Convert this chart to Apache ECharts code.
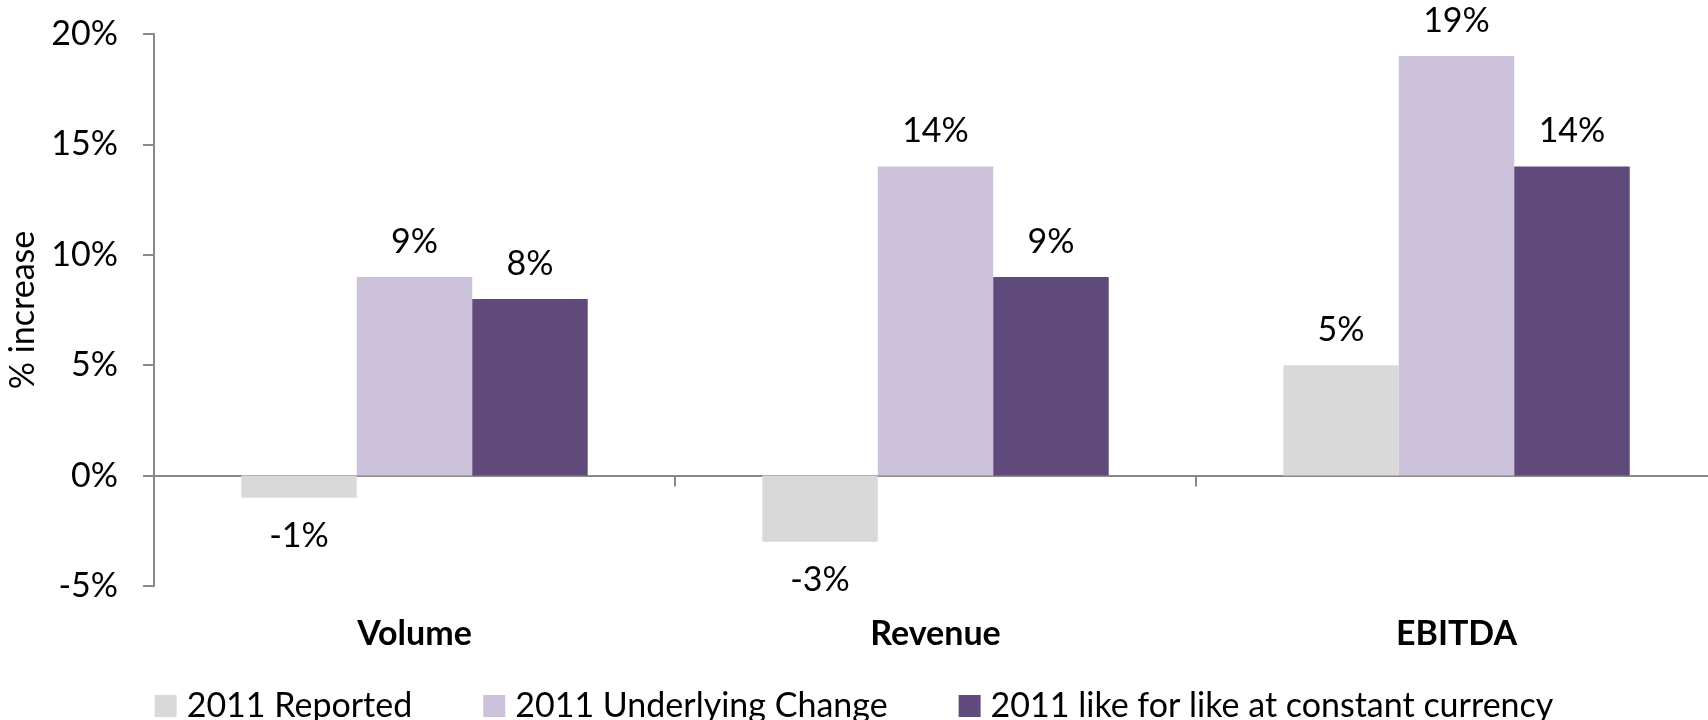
<!DOCTYPE html>
<html>
<head>
<meta charset="utf-8">
<script src="https://cdn.jsdelivr.net/npm/echarts@6/dist/echarts.min.js"></script>
<style>
html,body{margin:0;padding:0;background:#fff;}
#c{width:1708px;height:720px;}
</style>
</head>
<body>
<div id="c"></div>
<script>
const categories = ['Volume', 'Revenue', 'EBITDA'];
const seriesNames = ['2011 Reported', '2011 Underlying Change', '2011 like for like at constant currency'];
const reported = [-1, -3, 5];
const underlying = [9, 14, 19];
const likeForLike = [8, 9, 14];
const colors = ['#d9d9d9', '#ccc1da', '#604a7b'];
const yMin = -5, yMax = 20, yStep = 5;

const FONT = 'Lato';
const FS = 34;

function mkSeries(name, vals, color) {
  return {
    name: name,
    type: 'bar',
    barGap: '0%',
    barCategoryGap: '33.5%',
    itemStyle: { color: color },
    data: vals.map(v => ({
      value: v,
      label: v < 0 ? { position: 'bottom', distance: 21 } : { position: 'top', distance: 18 }
    })),
    label: {
      show: true,
      formatter: p => p.value + '%',
      color: '#000',
      fontFamily: FONT,
      fontSize: FS
    }
  };
}

const chart = echarts.init(document.getElementById('c'), null, { renderer: 'canvas' });
chart.setOption({
  animation: false,
  backgroundColor: '#fff',
  color: colors,
  grid: { left: 154, right: -9, top: 34, bottom: 134, containLabel: false, outerBoundsMode: 'none' },
  legend: {
    bottom: -3,
    padding: 0,
    left: 'center',
    itemWidth: 22,
    itemHeight: 22,
    itemGap: 71,
    icon: 'rect',
    textStyle: { fontFamily: FONT, fontSize: FS, color: '#000', padding: [0, 0, 0, 5] },
    data: seriesNames
  },
  xAxis: {
    type: 'category',
    data: categories,
    axisLine: { onZero: true, lineStyle: { color: '#898989', width: 2 } },
    axisTick: { show: true, length: 11, lineStyle: { color: '#898989', width: 2 } },
    axisLabel: { margin: 31, fontFamily: FONT, fontSize: FS, fontWeight: 'bold', color: '#000' }
  },
  yAxis: {
    type: 'value',
    min: yMin,
    max: yMax,
    interval: yStep,
    name: '% increase',
    nameLocation: 'middle',
    nameGap: 112,
    nameTextStyle: { fontFamily: FONT, fontSize: FS, color: '#000' },
    axisLine: { show: true, lineStyle: { color: '#898989', width: 2 } },
    axisTick: { show: true, length: 11, lineStyle: { color: '#898989', width: 2 } },
    splitLine: { show: false },
    axisLabel: { margin: 36, formatter: '{value}%', fontFamily: FONT, fontSize: FS, color: '#000' }
  },
  series: [
    mkSeries(seriesNames[0], reported, colors[0]),
    mkSeries(seriesNames[1], underlying, colors[1]),
    mkSeries(seriesNames[2], likeForLike, colors[2])
  ]
});
</script>
</body>
</html>
